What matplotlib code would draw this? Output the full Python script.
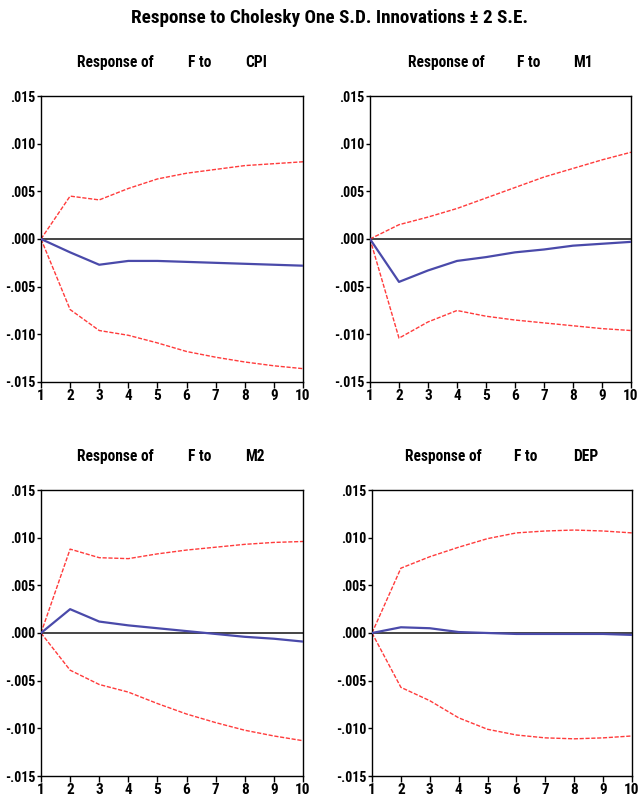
import matplotlib
matplotlib.use("Agg")
import matplotlib.pyplot as plt
from matplotlib import font_manager

names = {f.name for f in font_manager.fontManager.ttflist}
FONT = "Liberation Sans"
for cand in ["Liberation Sans Narrow", "Roboto Condensed", "Open Sans Condensed", "DejaVu Sans Condensed"]:
    if cand in names:
        FONT = cand
        break
plt.rcParams['font.family'] = [FONT, 'DejaVu Sans']

periods = [1, 2, 3, 4, 5, 6, 7, 8, 9, 10]

cpi_resp = [0, -0.0014, -0.0027, -0.0023, -0.0023, -0.0024, -0.0025, -0.0026, -0.0027, -0.0028]
cpi_upper = [0, 0.0045, 0.0041, 0.0053, 0.0063, 0.0069, 0.0073, 0.0077, 0.0079, 0.0081]
cpi_lower = [0, -0.0074, -0.0096, -0.0101, -0.0109, -0.0118, -0.0124, -0.0129, -0.0133, -0.0136]

m1_resp = [0, -0.0045, -0.0033, -0.0023, -0.0019, -0.0014, -0.0011, -0.0007, -0.0005, -0.0003]
m1_upper = [0, 0.0015, 0.0023, 0.0032, 0.0043, 0.0054, 0.0065, 0.0074, 0.0083, 0.0091]
m1_lower = [0, -0.0104, -0.0087, -0.0075, -0.0081, -0.0085, -0.0088, -0.0091, -0.0094, -0.0096]

m2_resp = [0, 0.0025, 0.0012, 0.0008, 0.0005, 0.0002, -0.0001, -0.0004, -0.0006, -0.0009]
m2_upper = [0, 0.0088, 0.0079, 0.0078, 0.0083, 0.0087, 0.0090, 0.0093, 0.0095, 0.0096]
m2_lower = [0, -0.0039, -0.0054, -0.0062, -0.0074, -0.0085, -0.0094, -0.0102, -0.0108, -0.0113]

dep_resp = [0, 0.0006, 0.0005, 0.0001, 0.0000, -0.0001, -0.0001, -0.0001, -0.0001, -0.0002]
dep_upper = [0, 0.0068, 0.0080, 0.0090, 0.0099, 0.0105, 0.0107, 0.0108, 0.0107, 0.0105]
dep_lower = [0, -0.0057, -0.0071, -0.0089, -0.0101, -0.0107, -0.0110, -0.0111, -0.0110, -0.0108]

yticks = [0.015, 0.010, 0.005, 0.000, -0.005, -0.010, -0.015]
ytick_labels = [".015", ".010", ".005", ".000", "-.005", "-.010", "-.015"]

title = "Response to Cholesky One S.D. Innovations \u00b1 2 S.E."
impulses = ["CPI", "M1", "M2", "DEP"]

panels = [
    (cpi_resp, cpi_upper, cpi_lower),
    (m1_resp, m1_upper, m1_lower),
    (m2_resp, m2_upper, m2_lower),
    (dep_resp, dep_upper, dep_lower),
]

# axes rectangles in pixels: left, top, right, bottom
rects_px = [(41, 96, 303, 382), (370, 96, 631, 382), (41, 490, 303, 776), (372, 490, 632, 776)]
# subtitle pieces x positions (start px) and baseline y
sub_pos = [((77, 188, 245), 67), ((408, 517, 573), 67), ((77, 188, 245), 461), ((405, 514, 573), 461)]

W, H = 640, 800
fig = plt.figure(figsize=(6.4, 8), dpi=100)
fig.text(330 / W, 1 - 18 / H, title, ha='center', va='center', fontsize=13.8, fontweight='bold')

for (resp, up, lo), imp, (l, t, r, b), (xs, ys) in zip(panels, impulses, rects_px, sub_pos):
    ax = fig.add_axes([l / W, 1 - b / H, (r - l) / W, (b - t) / H])
    ax.axhline(0, color='#444444', lw=1.4, zorder=1)
    ax.plot(periods, up, color='#ff3b3b', lw=1.0, ls=(0, (3, 1.2)), zorder=2)
    ax.plot(periods, lo, color='#ff3b3b', lw=1.0, ls=(0, (3, 1.2)), zorder=2)
    ax.plot(periods, resp, color='#4a4aaa', lw=1.6, zorder=3)
    ax.set_xlim(1, 10)
    ax.set_ylim(-0.015, 0.015)
    ax.set_xticks(periods)
    ax.set_xticklabels([str(p) for p in periods], fontsize=11, fontweight='bold')
    ax.set_yticks(yticks)
    ax.set_yticklabels(ytick_labels, fontsize=10, fontweight='bold')
    ax.tick_params(axis='y', direction='out', length=3, width=1, pad=1)
    ax.tick_params(axis='x', direction='out', length=4, width=1, pad=1)
    for s in ax.spines.values():
        s.set_linewidth(1.0)
        s.set_color('black')
    parts = ["Response of", "F to", imp]
    for px, txt in zip(xs, parts):
        fig.text(px / W, 1 - ys / H, txt, ha='left', va='baseline', fontsize=11.2, fontweight='bold')

fig.savefig("out.png", dpi=100)
